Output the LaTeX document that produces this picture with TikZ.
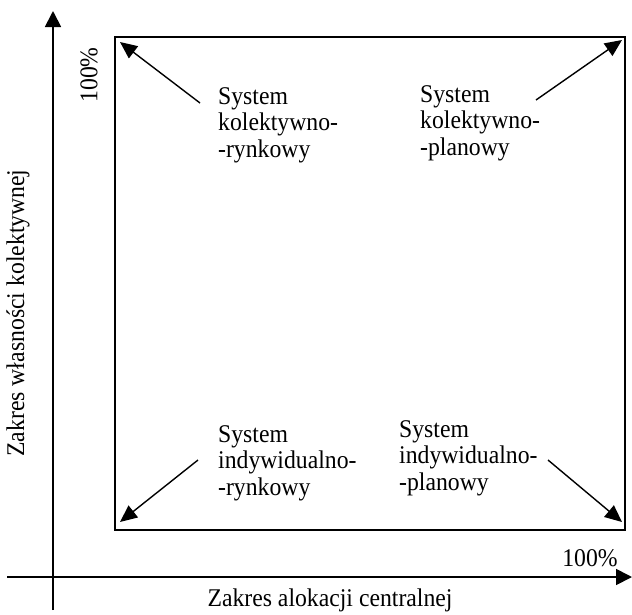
\documentclass[tikz,border=0pt]{standalone}
\usepackage{fontspec}
\setmainfont{Liberation Serif}[FakeStretch=0.93]
\usetikzlibrary{arrows.meta,calc}

\tikzset{
  axis/.style={line width=1.8pt,-{Triangle[length=16pt,width=16pt]}},
  corner arrow/.style={line width=1.4pt,-{Triangle[length=17pt,width=15pt]}},
  sysbox/.style={anchor=north west,inner sep=0pt,align=left,
    font=\fontsize{25.5}{26.5}\selectfont},
  axislabel/.style={inner sep=0pt,font=\fontsize{25.5}{26}\selectfont}
}

\begin{document}
\begin{tikzpicture}[x=1pt,y=-1pt]
						\useasboundingbox (0,0) rectangle (632,614);
						% axes
						\coordinate (O) at (53,577);
						\coordinate (Ytop) at (53,11);
						\coordinate (Ybot) at (53,610);
						\coordinate (Xleft) at (7,577);
						\coordinate (Xright) at (632,577);
						\draw[axis] (Ybot) -- (Ytop);
						\draw[axis] (Xleft) -- (Xright);
						\node[axislabel] (xlab) at (330,600) {Zakres alokacji centralnej};
						\node[axislabel,rotate=90] (ylab) at (18,313) {Zakres własności kolektywnej};
						\node[axislabel,rotate=90] (y100) at (89,75) {100\%};
						\node[axislabel] (x100) at (590,558) {100\%};
						% box
						\coordinate (NW) at (115,37);
						\coordinate (NE) at (625,37);
						\coordinate (SE) at (625,530);
						\coordinate (SW) at (115,530);
						\draw[line width=1.3pt] (NW) -- (NE) -- (SE) -- (SW) -- cycle;
						% systems
						\node[sysbox] (kr) at (218,87) {System\\kolektywno-\\-rynkowy};
						\node[sysbox] (kp) at (420,85) {System\\kolektywno-\\-planowy};
						\node[sysbox] (ir) at (218,425) {System\\indywidualno-\\-rynkowy};
						\node[sysbox] (ip) at (399,420) {System\\indywidualno-\\-planowy};
						\coordinate (kr-t) at (200,103);
						\coordinate (kp-t) at (536,100);
						\coordinate (ir-t) at (198,460);
						\coordinate (ip-t) at (548,460);
						\draw[corner arrow] (kr-t) -- ($(NW)+(5,5)$);
						\draw[corner arrow] (kp-t) -- ($(NE)+(-3,3)$);
						\draw[corner arrow] (ir-t) -- ($(SW)+(5,-8)$);
						\draw[corner arrow] (ip-t) -- ($(SE)+(-3,-8)$);
					\end{tikzpicture}
\end{document}
